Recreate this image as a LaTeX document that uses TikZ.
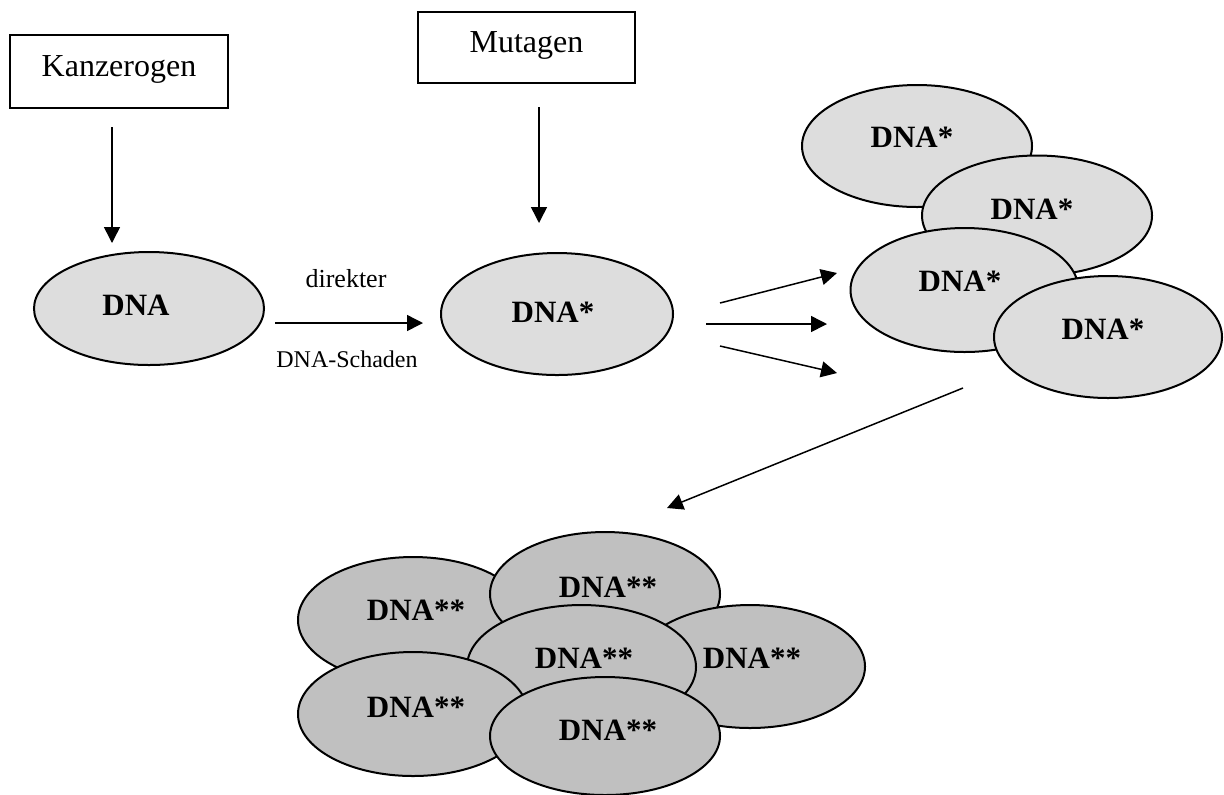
\documentclass[tikz,border=0pt]{standalone}
\usepackage{fontspec}
\setmainfont{Liberation Serif}
\usetikzlibrary{arrows.meta,shapes.geometric}
\definecolor{lightfill}{RGB}{221,221,221}
\definecolor{darkfill}{RGB}{192,192,192}
\begin{document}
\begin{tikzpicture}[x=0.5pt,y=-0.5pt,
  ell/.style={draw, ellipse, line width=1pt, inner sep=0pt, outer sep=0pt},
  lightell/.style={ell, fill=lightfill},
  darkell/.style={ell, fill=darkfill},
  lbl/.style={anchor=base, inner sep=0pt, font=\fontsize{15.5}{18}\selectfont\bfseries},
  boxnode/.style={draw, rectangle, line width=1pt, inner sep=0pt},
  boxtext/.style={anchor=base, inner sep=0pt, font=\fontsize{16}{19}\selectfont},
  arr/.style={-{Triangle[length=8pt,width=8pt]}, line width=0.75pt}]
\fill[white] (0,0) rectangle (1224,794);
\useasboundingbox (0,0) rectangle (1224,794);

% boxes
\node[boxnode, minimum width=109pt, minimum height=36.5pt] (kanz) at (119,71.5) {};
\node[boxtext] (kanzt) at (119,76) {Kanzerogen};
\node[boxnode, minimum width=108.5pt, minimum height=35.5pt] (mut) at (526.5,47.5) {};
\node[boxtext] (mutt) at (526.5,52) {Mutagen};

% first ellipses
\node[lightell, minimum width=115pt, minimum height=56.5pt] (dna) at (149,308.5) {};
\node[lbl] (dnat) at (136,315) {DNA};
\node[lightell, minimum width=116pt, minimum height=61pt] (dnas) at (557,314) {};
\node[lbl] (dnast) at (553,322) {DNA*};

% cluster of DNA*
\node[lightell, minimum width=115pt, minimum height=61pt] (ca) at (917,146) {};
\node[lbl] (cat) at (912,147) {DNA*};
\node[lightell, minimum width=115pt, minimum height=60pt] (cb) at (1037,215.5) {};
\node[lbl] (cbt) at (1032,219) {DNA*};
\node[lightell, minimum width=114pt, minimum height=62pt] (cc) at (964.5,290) {};
\node[lbl] (cct) at (960,291) {DNA*};
\node[lightell, minimum width=114pt, minimum height=61pt] (cd) at (1108,337) {};
\node[lbl] (cdt) at (1103,339) {DNA*};

% cluster of DNA**
\node[darkell, minimum width=115pt, minimum height=63pt] (e1) at (413,620) {};
\node[lbl] (e1t) at (416,620) {DNA**};
\node[darkell, minimum width=115pt, minimum height=62pt] (e2) at (605,594) {};
\node[lbl] (e2t) at (608,597) {DNA**};
\node[darkell, minimum width=115pt, minimum height=61.5pt] (e5) at (750,666.5) {};
\node[lbl] (e5t) at (752,668) {DNA**};
\node[darkell, minimum width=114.5pt, minimum height=62pt] (e3) at (581.5,667) {};
\node[lbl] (e3t) at (584,668) {DNA**};
\node[darkell, minimum width=115pt, minimum height=62pt] (e4) at (413,714) {};
\node[lbl] (e4t) at (416,717) {DNA**};
\node[darkell, minimum width=115pt, minimum height=59pt] (e6) at (605,736) {};
\node[lbl] (e6t) at (608,740) {DNA**};

% arrow end points
\coordinate (k1) at (112,127);
\coordinate (k2) at (112,243);
\coordinate (m1) at (539,107);
\coordinate (m2) at (539,223);
\coordinate (d1) at (275,323);
\coordinate (d2) at (423,323);
\coordinate (f1s) at (720,303);
\coordinate (f1e) at (837,273);
\coordinate (f2s) at (706,324);
\coordinate (f2e) at (827,324);
\coordinate (f3s) at (720,346);
\coordinate (f3e) at (837,373);
\coordinate (bs) at (963,388);
\coordinate (be) at (667,508);

\draw[arr] (k1) -- (k2);
\draw[arr] (m1) -- (m2);
\draw[arr] (d1) -- (d2);
\draw[arr] (f1s) -- (f1e);
\draw[arr] (f2s) -- (f2e);
\draw[arr] (f3s) -- (f3e);
\draw[arr] (bs) -- (be);

\node[anchor=base, inner sep=0pt, font=\fontsize{13}{15}\selectfont] (dir) at (346,287) {direkter};
\node[anchor=base, inner sep=0pt, font=\fontsize{12}{14}\selectfont] (sch) at (347,367) {DNA-Schaden};
\end{tikzpicture}
\end{document}
